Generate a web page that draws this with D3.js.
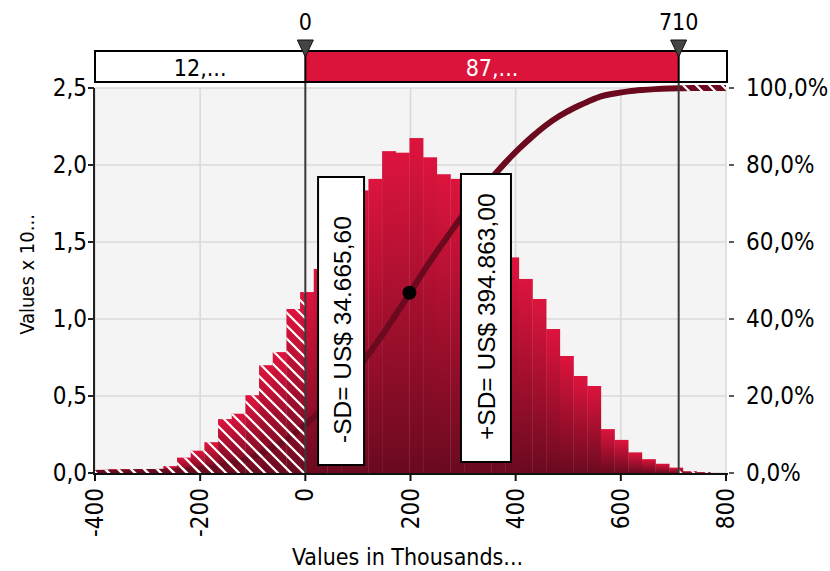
<!DOCTYPE html>
<html><head><meta charset="utf-8">
<script src="https://cdn.jsdelivr.net/npm/d3@7/dist/d3.min.js"></script>
<style>body{margin:0;background:#fff} svg{display:block}</style>
</head><body>
<svg id="c" width="830" height="571"></svg>
<script>
// ---------- data ----------
const binLow = [-400,-374,-348,-322,-296,-270,-244,-218,-192,-166,-140,-114,-88,-62,-36,-10,16,42,68,94,120,146,172,198,224,250,276,302,328,354,380,406,432,458,484,510,536,562,588,614,640,666,692,718,744];
const binWidth = 26;
const binCounts = [0.02,0.025,0.025,0.025,0.025,0.045,0.10,0.145,0.20,0.35,0.385,0.505,0.70,0.785,1.065,1.175,1.325,1.50,1.68,1.835,1.91,2.09,2.08,2.175,2.05,1.94,1.91,1.82,1.70,1.55,1.40,1.26,1.13,0.935,0.76,0.63,0.565,0.285,0.215,0.134,0.09,0.06,0.035,0.012,0.006];
const xTicks = [-400,-200,0,200,400,600,800];
const yTicks = [0,0.5,1,1.5,2,2.5];
const pctTicks = [0,20,40,60,80,100];
const markerValues = [0,710];
const markerLabels = ["0","710"];
const bandLabels = ["12,...","87,...",""];
const sdValues = [34665.60, 394863.00];
const sdPrefixes = ["-SD= US$ ","+SD= US$ "];
const meanValue = 198;
const xTitle = "Values in Thousands...";
const yTitle = "Values x 10...";

// ---------- layout ----------
const M = {left:95, right:726, top:88, bottom:473};
const x = d3.scaleLinear().domain([-400,800]).range([M.left,M.right]);
const y = d3.scaleLinear().domain([0,2.5]).range([M.bottom,M.top]);
const yp = d3.scaleLinear().domain([0,100]).range([M.bottom,M.top]);
const loc = d3.formatLocale({decimal:",",thousands:".",grouping:[3],currency:["US$ ",""]});
const f1 = loc.format(".1f");
const fMoney = loc.format(",.2f");
const FONT = "'DejaVu Sans Condensed', 'DejaVu Sans'";

const svg = d3.select("#c");
const defs = svg.append("defs");
const grad = defs.append("linearGradient").attr("id","barGrad").attr("x1",0).attr("y1",0).attr("x2",0).attr("y2",1);
grad.append("stop").attr("offset","0%").attr("stop-color","#dd143d");
grad.append("stop").attr("offset","100%").attr("stop-color","#6a0a1f");
const pat = defs.append("pattern").attr("id","hatch").attr("patternUnits","userSpaceOnUse").attr("width",13).attr("height",13);
pat.append("path").attr("d","M-3,-3 L16,16 M-3,10 L3,16 M10,-3 L16,3").attr("stroke","#fff").attr("stroke-width",2.2);
const clipL = defs.append("clipPath").attr("id","outside");
clipL.append("rect").attr("x",x(-400)).attr("y",M.top-10).attr("width",x(markerValues[0])-x(-400)).attr("height",M.bottom-M.top+10);
clipL.append("rect").attr("x",x(markerValues[1])).attr("y",M.top-10).attr("width",x(800)-x(markerValues[1])).attr("height",M.bottom-M.top+10);
const clipP = defs.append("clipPath").attr("id","plot");
clipP.append("rect").attr("x",M.left).attr("y",M.top-10).attr("width",M.right-M.left).attr("height",M.bottom-M.top+10);

// background
svg.append("rect").attr("x",M.left).attr("y",M.top).attr("width",M.right-M.left).attr("height",M.bottom-M.top).attr("fill","#f4f4f4");

// grid
svg.append("g").selectAll("line").data(xTicks).join("line")
  .attr("x1",d=>x(d)).attr("x2",d=>x(d)).attr("y1",M.top).attr("y2",M.bottom)
  .attr("stroke","#dadada").attr("stroke-width",1.6);
svg.append("g").selectAll("line").data(yTicks).join("line")
  .attr("x1",M.left).attr("x2",M.right).attr("y1",d=>y(d)).attr("y2",d=>y(d))
  .attr("stroke","#dadada").attr("stroke-width",1.6);

// bars
const bins = binLow.map((b,i)=>({x0:b, x1:b+binWidth, v:binCounts[i]}));
const total = d3.sum(binCounts);
let acc = 0;
const cum = [{v:binLow[0], p:0}];
bins.forEach(b=>{acc+=b.v; cum.push({v:b.x1, p:acc/total*100});});
cum.push({v:800, p:100});

function drawBars(g, fill){
  g.selectAll("rect").data(bins).join("rect")
    .attr("x",d=>x(d.x0)).attr("width",d=>x(d.x1)-x(d.x0)+0.3)
    .attr("y",d=>y(d.v)).attr("height",d=>y(0)-y(d.v))
    .attr("fill",fill);
}
const line = d3.line().x(d=>x(d.v)).y(d=>yp(d.p)).curve(d3.curveMonotoneX);

const main = svg.append("g").attr("clip-path","url(#plot)");
drawBars(main.append("g"), "url(#barGrad)");
main.append("path").datum(cum).attr("d",line).attr("fill","none").attr("stroke","#6b0a1e").attr("stroke-width",6);

// hatch overlay outside the [0,710] window
const hatch = svg.append("g").attr("clip-path","url(#outside)");
drawBars(hatch.append("g"), "url(#hatch)");
hatch.append("path").datum(cum).attr("d",line).attr("fill","none").attr("stroke","url(#hatch)").attr("stroke-width",6);

// marker lines
const bandTop = 51, bandBot = 82;
svg.append("g").selectAll("line").data(markerValues).join("line")
  .attr("x1",d=>x(d)).attr("x2",d=>x(d)).attr("y1",bandTop).attr("y2",M.bottom)
  .attr("stroke","#3a3a3a").attr("stroke-width",2);

// SD boxes
const sdBoxes = [
  {v:sdValues[0], txt:sdPrefixes[0]+fMoney(sdValues[0]), x0:x(sdValues[0]/1000)-5.5, w:46, top:177, bot:465},
  {v:sdValues[1], txt:sdPrefixes[1]+fMoney(sdValues[1]), x0:x(sdValues[1]/1000)-52, w:50, top:174, bot:462}
];
const sg = svg.append("g").selectAll("g").data(sdBoxes).join("g");
sg.append("rect").attr("x",d=>d.x0).attr("y",d=>d.top).attr("width",d=>d.w).attr("height",d=>d.bot-d.top)
  .attr("fill","#fff").attr("stroke","#000").attr("stroke-width",2);
sg.append("text").attr("transform",d=>`translate(${d.x0+d.w/2+1},${d.bot-22}) rotate(-90)`)
  .attr("dominant-baseline","central").attr("font-family","Liberation Sans, Arial").attr("font-size",24.5)
  .text(d=>d.txt);

// mean dot
const meanP = (function(){ const i=d3.bisector(d=>d.v).left(cum, meanValue); const a=cum[i-1], b=cum[i]; return a.p+(b.p-a.p)*(meanValue-a.v)/(b.v-a.v); })();
svg.append("circle").attr("cx",x(meanValue)).attr("cy",yp(meanP)-1).attr("r",7).attr("fill","#000");

// axes
const ax = svg.append("g").attr("font-family",FONT).attr("font-size",24).attr("fill","#000");
ax.append("line").attr("x1",M.left-1).attr("x2",M.left-1).attr("y1",M.top).attr("y2",M.bottom+1).attr("stroke","#222").attr("stroke-width",2);
ax.append("line").attr("x1",M.left-2).attr("x2",M.right+2).attr("y1",M.bottom+1).attr("y2",M.bottom+1).attr("stroke","#111").attr("stroke-width",2);
ax.selectAll(".yt").data(yTicks).join("line").attr("x1",M.left-7).attr("x2",M.left-1).attr("y1",d=>y(d)).attr("y2",d=>y(d)).attr("stroke","#222").attr("stroke-width",2);
ax.selectAll(".yl").data(yTicks).join("text").attr("x",M.left-8).attr("y",d=>y(d)).attr("text-anchor","end").attr("dominant-baseline","central").text(d=>f1(d));
ax.selectAll(".xt").data(xTicks).join("line").attr("x1",d=>x(d)).attr("x2",d=>x(d)).attr("y1",M.bottom+1).attr("y2",M.bottom+8).attr("stroke","#111").attr("stroke-width",2);
ax.selectAll(".xl").data(xTicks).join("text").attr("transform",d=>`translate(${x(d)},${M.bottom+15}) rotate(-90)`).attr("text-anchor","end").attr("dominant-baseline","central").text(d=>d);
ax.selectAll(".pt").data(pctTicks).join("line").attr("x1",M.right+3).attr("x2",M.right+8).attr("y1",d=>yp(d)).attr("y2",d=>yp(d)).attr("stroke","#222").attr("stroke-width",1.5);
ax.selectAll(".pl").data(pctTicks).join("text").attr("x",M.right+20).attr("y",d=>yp(d)).attr("dominant-baseline","central").text(d=>f1(d)+"%");
ax.append("text").attr("x",(M.left+M.right)/2-3).attr("y",565).attr("text-anchor","middle").attr("font-size",23).text(xTitle);
ax.append("text").attr("transform",`translate(27,${(M.top+M.bottom)/2-6}) rotate(-90)`).attr("text-anchor","middle").attr("dominant-baseline","central").attr("font-size",20).text(yTitle);

// band on top
const segs = [
  {a:x(-400), b:x(markerValues[0]), fill:"#fff", col:"#000", t:bandLabels[0]},
  {a:x(markerValues[0]), b:x(markerValues[1]), fill:"#dc143c", col:"#fff", t:bandLabels[1]},
  {a:x(markerValues[1]), b:x(800)+1, fill:"#fff", col:"#000", t:bandLabels[2]}
];
const bg = svg.append("g").attr("font-family",FONT).attr("font-size",23);
bg.selectAll("rect").data(segs).join("rect").attr("x",d=>d.a).attr("y",bandTop).attr("width",d=>d.b-d.a).attr("height",bandBot-bandTop).attr("fill",d=>d.fill);
bg.selectAll("text").data(segs).join("text").attr("x",d=>(d.a+d.b)/2).attr("y",(bandTop+bandBot)/2+1).attr("text-anchor","middle").attr("dominant-baseline","central").attr("fill",d=>d.col).text(d=>d.t);
bg.append("rect").attr("x",x(-400)).attr("y",bandTop).attr("width",x(800)+1-x(-400)).attr("height",bandBot-bandTop).attr("fill","none").attr("stroke","#000").attr("stroke-width",2);
bg.selectAll("line").data(markerValues).join("line").attr("x1",d=>x(d)).attr("x2",d=>x(d)).attr("y1",bandTop).attr("y2",bandBot).attr("stroke","#000").attr("stroke-width",2);
bg.selectAll("path").data(markerValues).join("path").attr("d",d=>`M${x(d)-8},40 L${x(d)+8},40 L${x(d)},57 Z`).attr("fill","#444").attr("stroke","#111").attr("stroke-width",1);
bg.selectAll(".ml").data(markerLabels).join("text").attr("x",(d,i)=>x(markerValues[i])).attr("y",30).attr("text-anchor","middle").text(d=>d);
</script>
</body></html>
